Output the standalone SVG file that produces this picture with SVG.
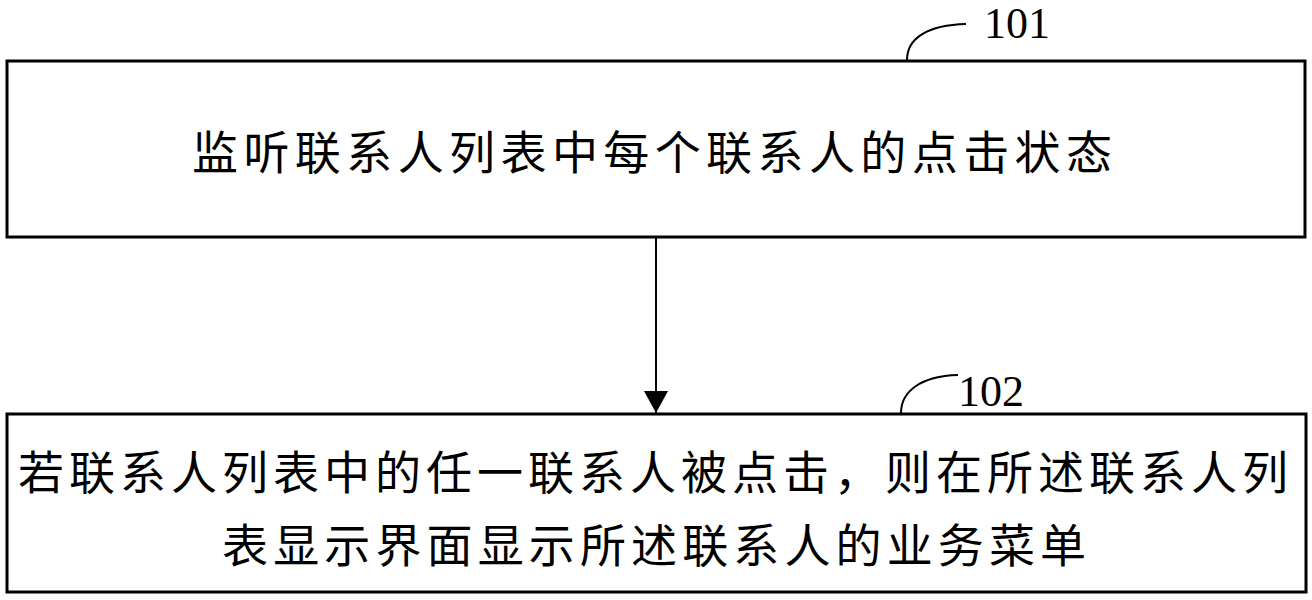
<svg xmlns="http://www.w3.org/2000/svg" width="1312" height="600" viewBox="0 0 1312 600">
<defs>
<style>
.box{fill:#fff;stroke:#000;stroke-width:3}
.t{font-family:"Noto Sans CJK SC","Noto Sans CJK JP",sans-serif;font-size:46px;fill:#000}
.lbl{font-family:"Liberation Serif","Times New Roman",serif;font-size:44px;fill:#000}
.lead{fill:none;stroke:#000;stroke-width:2}
</style>
<marker id="arr" viewBox="0 0 22 24" refX="22" refY="12" markerWidth="22" markerHeight="24" markerUnits="userSpaceOnUse" orient="auto">
<path d="M0,0 L22,12 L0,24 Z" fill="#000"/>
</marker>
</defs>
<rect width="1312" height="600" fill="#fff"/>
<g id="node101">
<rect class="box" x="7" y="61" width="1298" height="176"/>
<text class="t" x="192" y="169" textLength="920" lengthAdjust="spacing">监听联系人列表中每个联系人的点击状态</text>
<path class="lead" d="M907,60 C907,38 928,25 966,24"/>
<text class="lbl" x="984" y="38">101</text>
</g>
<g id="node102">
<rect class="box" x="7" y="414" width="1299" height="178"/>
<text class="t" x="18" y="489" textLength="1270" lengthAdjust="spacing">若联系人列表中的任一联系人被点击，则在所述联系人列</text>
<text class="t" x="222" y="562" textLength="864" lengthAdjust="spacing">表显示界面显示所述联系人的业务菜单</text>
<path class="lead" d="M901,413 C901,392 920,376 958,375"/>
<text class="lbl" x="958" y="406">102</text>
</g>
<g id="connectors">
<line x1="656" y1="237" x2="656" y2="413" stroke="#000" stroke-width="2" marker-end="url(#arr)"/>
</g>
</svg>
